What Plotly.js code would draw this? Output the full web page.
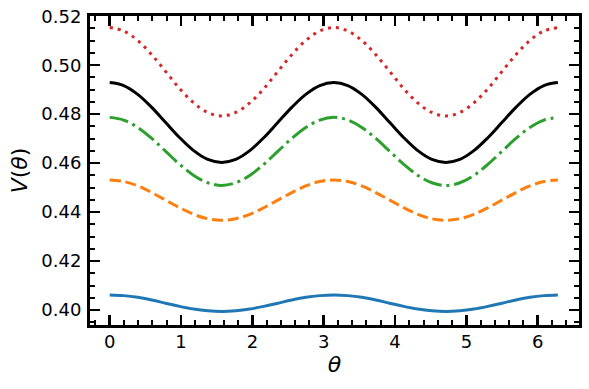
<!DOCTYPE html>
<html>
<head>
<meta charset="utf-8">
<script src="https://cdn.plot.ly/plotly-3.0.1.min.js"></script>
<style>
  html, body { margin: 0; padding: 0; background: #fff; }
  #grafico { width: 589px; height: 389px; }
</style>
</head>
<body>
<div id="grafico"></div>
<script>
  // theta samples (0 .. 2*pi in steps of pi/16)
  let theta = [0, 0.1963, 0.3927, 0.5890, 0.7854, 0.9817, 1.1781, 1.3744, 1.5708,
    1.7671, 1.9635, 2.1598, 2.3562, 2.5525, 2.7489, 2.9452, 3.1416,
    3.3379, 3.5343, 3.7306, 3.9270, 4.1233, 4.3197, 4.5160, 4.7124,
    4.9087, 5.1051, 5.3014, 5.4978, 5.6941, 5.8905, 6.0868, 6.2832];

  // values
  let vRed = [0.5154, 0.5140, 0.5101, 0.5043, 0.4974, 0.4904, 0.4846, 0.4807, 0.4793,
    0.4807, 0.4846, 0.4904, 0.4974, 0.5043, 0.5101, 0.5140, 0.5154,
    0.5140, 0.5101, 0.5043, 0.4974, 0.4904, 0.4846, 0.4807, 0.4793,
    0.4807, 0.4846, 0.4904, 0.4974, 0.5043, 0.5101, 0.5140, 0.5154];
  let vBlack = [0.4929, 0.4917, 0.4881, 0.4828, 0.4766, 0.4704, 0.4651, 0.4615, 0.4603,
    0.4615, 0.4651, 0.4704, 0.4766, 0.4828, 0.4881, 0.4917, 0.4929,
    0.4917, 0.4881, 0.4828, 0.4766, 0.4704, 0.4651, 0.4615, 0.4603,
    0.4615, 0.4651, 0.4704, 0.4766, 0.4828, 0.4881, 0.4917, 0.4929];
  let vGreen = [0.4787, 0.4776, 0.4746, 0.4701, 0.4648, 0.4595, 0.4550, 0.4520, 0.4509,
    0.4520, 0.4550, 0.4595, 0.4648, 0.4701, 0.4746, 0.4776, 0.4787,
    0.4776, 0.4746, 0.4701, 0.4648, 0.4595, 0.4550, 0.4520, 0.4509,
    0.4520, 0.4550, 0.4595, 0.4648, 0.4701, 0.4746, 0.4776, 0.4787];
  let vOrange = [0.4531, 0.4525, 0.4507, 0.4480, 0.4449, 0.4418, 0.4391, 0.4373, 0.4367,
    0.4373, 0.4391, 0.4418, 0.4449, 0.4480, 0.4507, 0.4525, 0.4531,
    0.4525, 0.4507, 0.4480, 0.4449, 0.4418, 0.4391, 0.4373, 0.4367,
    0.4373, 0.4391, 0.4418, 0.4449, 0.4480, 0.4507, 0.4525, 0.4531];
  let vBlue = [0.4062, 0.4059, 0.4052, 0.4041, 0.4028, 0.4015, 0.4004, 0.3997, 0.3994,
    0.3997, 0.4004, 0.4015, 0.4028, 0.4041, 0.4052, 0.4059, 0.4062,
    0.4059, 0.4052, 0.4041, 0.4028, 0.4015, 0.4004, 0.3997, 0.3994,
    0.3997, 0.4004, 0.4015, 0.4028, 0.4041, 0.4052, 0.4059, 0.4062];

  let xTicks = [0, 1, 2, 3, 4, 5, 6];
  let yTicks = [0.40, 0.42, 0.44, 0.46, 0.48, 0.50, 0.52];
  let yTickText = ['0.40', '0.42', '0.44', '0.46', '0.48', '0.50', '0.52'];

  function traza(y, color, dash) {
    return {
      x: theta, y: y, mode: 'lines', type: 'scatter',
      line: { color: color, width: 3, dash: dash, shape: 'spline' },
      hoverinfo: 'skip'
    };
  }

  let trazas = [
    traza(vBlue, '#1f77b4', 'solid'),
    traza(vOrange, '#ff7f0e', '11px,4.8px'),
    traza(vGreen, '#2ca02c', '19px,4.8px,3px,4.8px'),
    traza(vRed, '#d62728', '3px,5px'),
    traza(vBlack, '#000000', 'solid')
  ];

  let ejeComun = {
    showline: true, linewidth: 3, linecolor: '#000', mirror: 'allticks',
    ticks: 'inside', ticklen: 10, tickwidth: 2.5, tickcolor: '#000',
    showgrid: false, zeroline: false,
    tickfont: { family: 'DejaVu Sans', size: 18, color: '#000' }
  };

  let layout = {
    width: 589, height: 389,
    margin: { l: 90, r: 10, t: 16, b: 64 },
    paper_bgcolor: '#fff', plot_bgcolor: '#fff',
    showlegend: false,
    xaxis: Object.assign({}, ejeComun, {
      range: [-0.276, 6.579],
      tickmode: 'array', tickvals: xTicks,
      ticklabelstandoff: -2,
      minor: { ticks: 'inside', ticklen: 5, tickwidth: 2, tickcolor: '#000', dtick: 0.2, tick0: 0 },
      title: { text: '<i>θ</i>', font: { family: 'DejaVu Sans', size: 22, color: '#000' }, standoff: 3 }
    }),
    yaxis: Object.assign({}, ejeComun, {
      range: [0.3939, 0.5201],
      tickmode: 'array', tickvals: yTicks, ticktext: yTickText,
      ticklabelstandoff: 2,
      minor: { ticks: 'inside', ticklen: 5, tickwidth: 2, tickcolor: '#000', dtick: 0.005, tick0: 0 },
      title: { text: '<i>V</i>(<i>θ</i>)', font: { family: 'DejaVu Sans', size: 22, color: '#000' }, standoff: 8 }
    })
  };

  Plotly.newPlot('grafico', trazas, layout, { displayModeBar: false, staticPlot: true });
</script>
</body>
</html>
